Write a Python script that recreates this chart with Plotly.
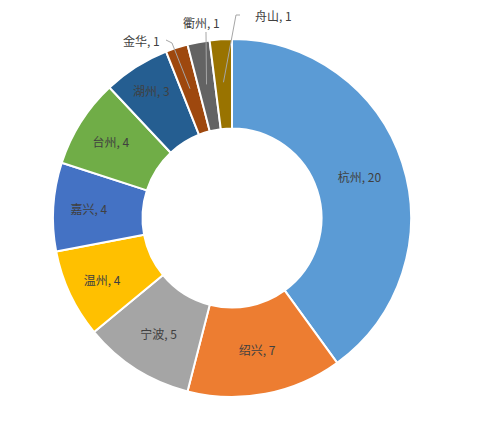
import math
import plotly.graph_objects as go

cities = ["杭州", "绍兴", "宁波", "温州", "嘉兴", "台州", "湖州", "金华", "衢州", "舟山"]
counts = [20, 7, 5, 4, 4, 4, 3, 1, 1, 1]
colors = ["#5B9BD5", "#ED7D31", "#A5A5A5", "#FFC000", "#4472C4",
          "#70AD47", "#255E91", "#9E480E", "#636363", "#997300"]
outside = {"金华", "衢州", "舟山"}

W, H = 484, 422
OFF = 8  # page body margin
CX, CY, R = 232 - OFF, 218 - OFF, 179
FONT = "Noto Sans CJK SC, Noto Sans, sans-serif"
TXT = "#404040"

texts = ["" if c in outside else f"{c}, {v}" for c, v in zip(cities, counts)]

fig = go.Figure(go.Pie(
    labels=cities, values=counts, text=texts, textinfo="text",
    texttemplate="%{text}", textposition="inside",
    insidetextorientation="horizontal",
    sort=False, direction="clockwise", rotation=0, hole=0.5,
    marker=dict(colors=colors, line=dict(color="white", width=2)),
    textfont=dict(family=FONT, size=12, color=TXT),
    domain=dict(x=[(CX - R) / W, (CX + R) / W], y=[1 - (CY + R) / H, 1 - (CY - R) / H]),
    showlegend=False, hoverinfo="label+value",
))

# outside labels with leader lines (text placement, reference pixel coords)
label_pos = {
    "金华": dict(tx=141, ty=40, elbow=[(166, 40), (172, 43)]),
    "衢州": dict(tx=201, ty=22, elbow=[(206, 32)]),
    "舟山": dict(tx=273, ty=15, elbow=[(240, 15), (236, 15)]),
}

def px2paper(x, y):
    return (x - OFF) / W, 1 - (y - OFF) / H

total = sum(counts)
cum = 0
shapes, annos = [], []
for c, v in zip(cities, counts):
    mid = (cum + v / 2) / total * 2 * math.pi
    cum += v
    if c not in outside:
        continue
    r = 136
    ex, ey = CX + OFF + r * math.sin(mid), CY + OFF - r * math.cos(mid)
    lp = label_pos[c]
    pts = lp["elbow"] + [(ex, ey)]
    path = ""
    for i, (x, y) in enumerate(pts):
        px, py = px2paper(x, y)
        path += ("M" if i == 0 else " L") + f" {px:.5f} {py:.5f}"
    shapes.append(dict(type="path", path=path, xref="paper", yref="paper",
                       line=dict(color="#A6A6A6", width=1)))
    tx, ty = px2paper(lp["tx"], lp["ty"])
    annos.append(dict(x=tx, y=ty, xref="paper", yref="paper", text=f"{c}, {v}",
                      showarrow=False, font=dict(family=FONT, size=12, color=TXT),
                      xanchor="center", yanchor="middle"))

fig.update_layout(
    width=W, height=H, margin=dict(l=0, r=0, t=0, b=0),
    paper_bgcolor="white", plot_bgcolor="white",
    shapes=shapes, annotations=annos,
)
fig.write_html("out.html")
